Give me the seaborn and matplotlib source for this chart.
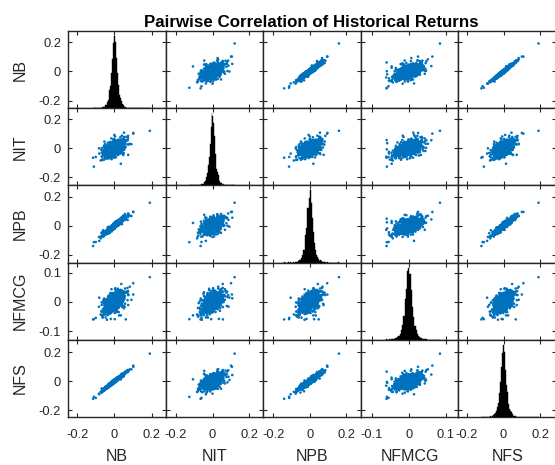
import numpy as np
import pandas as pd
import matplotlib
matplotlib.use("Agg")
import matplotlib.pyplot as plt
import seaborn as sns

# ---------------- data ----------------
names = ["NB", "NIT", "NPB", "NFMCG", "NFS"]
# daily-return spread of each index (read from cloud / histogram widths)
sigmas = [0.019, 0.018, 0.020, 0.0118, 0.019]
# pairwise correlations (upper triangle, read from cloud shapes)
corr_pairs = {
    ("NB", "NIT"): 0.45, ("NB", "NPB"): 0.955, ("NB", "NFMCG"): 0.52, ("NB", "NFS"): 0.985,
    ("NIT", "NPB"): 0.43, ("NIT", "NFMCG"): 0.42, ("NIT", "NFS"): 0.46,
    ("NPB", "NFMCG"): 0.50, ("NPB", "NFS"): 0.945,
    ("NFMCG", "NFS"): 0.52,
}
# the two isolated extreme days visible in every panel
extreme_up = [0.19, 0.12, 0.16, 0.085, 0.19]
extreme_down = [-0.115, -0.065, -0.14, -0.06, -0.12]
# axis limits of each variable
limits = [(-0.25, 0.275), (-0.255, 0.275), (-0.255, 0.28), (-0.13, 0.135), (-0.245, 0.285)]
tick_vals = [[-0.2, 0, 0.2], [-0.2, 0, 0.2], [-0.2, 0, 0.2], [-0.1, 0, 0.1], [-0.2, 0, 0.2]]
tick_text = [["-0.2", "0", "0.2"], ["-0.2", "0", "0.2"], ["-0.2", "0", "0.2"],
             ["-0.1", "0", "0.1"], ["-0.2", "0", "0.2"]]
title = "Pairwise Correlation of Historical Returns"
n_days = 3200

# ---------------- deterministic cloud built from the statistics above ----------------
def norm_ppf(p):
    a = [-3.969683028665376e+01, 2.209460984245205e+02, -2.759285104469687e+02,
         1.383577518672690e+02, -3.066479806614716e+01, 2.506628277459239e+00]
    b = [-5.447609879822406e+01, 1.615858368580409e+02, -1.556989798598866e+02,
         6.680131188771972e+01, -1.328068155288572e+01]
    c = [-7.784894002430293e-03, -3.223964580411365e-01, -2.400758277161838e+00,
         -2.549732539343734e+00, 4.374664141464968e+00, 2.938163982698783e+00]
    d = [7.784695709041462e-03, 3.224671290700398e-01, 2.445134137142996e+00,
         3.754408661907416e+00]
    p = np.asarray(p, float)
    out = np.empty_like(p)
    lo = p < 0.02425
    hi = p > 1 - 0.02425
    mid = ~(lo | hi)
    q = np.sqrt(-2 * np.log(p[lo]))
    out[lo] = (((((c[0]*q+c[1])*q+c[2])*q+c[3])*q+c[4])*q+c[5]) / ((((d[0]*q+d[1])*q+d[2])*q+d[3])*q+1)
    q = np.sqrt(-2 * np.log(1 - p[hi]))
    out[hi] = -(((((c[0]*q+c[1])*q+c[2])*q+c[3])*q+c[4])*q+c[5]) / ((((d[0]*q+d[1])*q+d[2])*q+d[3])*q+1)
    q = p[mid] - 0.5
    r = q * q
    out[mid] = (((((a[0]*r+a[1])*r+a[2])*r+a[3])*r+a[4])*r+a[5])*q / (((((b[0]*r+b[1])*r+b[2])*r+b[3])*r+b[4])*r+1)
    return out

k = len(names)
dim = k + 1
phi = 2.0
for _ in range(60):
    phi = (1 + phi) ** (1.0 / (dim + 1))
alpha = np.array([(1.0 / phi) ** (j + 1) % 1 for j in range(dim)])
idx = np.arange(1, n_days + 1)[:, None]
u = (0.5 + idx * alpha[None, :]) % 1.0
u = np.clip(u, 1e-6, 1 - 1e-6)
z = norm_ppf(u)

C = np.eye(k)
for (p1, p2), v in corr_pairs.items():
    i, j = names.index(p1), names.index(p2)
    C[i, j] = C[j, i] = v
w, V = np.linalg.eigh(C)
w = np.clip(w, 1e-4, None)
L = V @ np.diag(np.sqrt(w))
vol = np.exp(0.42 * z[:, k])
vol = vol / np.sqrt(np.mean(vol ** 2))
R = (z[:, :k] @ L.T) * vol[:, None] * np.array(sigmas)[None, :]
R = np.vstack([R, extreme_up, extreme_down])
df = pd.DataFrame(R, columns=names)

# ---------------- drawing ----------------
sns.set_style("white")
plt.rcParams["font.family"] = ["Liberation Sans", "DejaVu Sans"]
W, H = 555, 465
fig = plt.figure(figsize=(W / 100, H / 100), dpi=100)
x0, x1, y0, y1 = 68, 556, 31, 417
cw = (x1 - x0) / k
rh = (y1 - y0) / k
dark = "#262626"
blue = "#0072BD"

for r in range(k):
    for c in range(k):
        left = (x0 + c * cw) / W
        bottom = 1 - (y0 + (r + 1) * rh) / H
        ax = fig.add_axes([left, bottom, cw / W, rh / H])
        ax.set_xlim(limits[c])
        ax.set_ylim(limits[r])
        if r != c:
            sns.scatterplot(data=df, x=names[c], y=names[r], ax=ax, s=3.5, color=blue,
                            linewidth=0, edgecolor="none", alpha=1.0)
        else:
            axh = ax.inset_axes([0, 0, 1, 1])
            sns.histplot(data=df, x=names[c], ax=axh, binwidth=sigmas[c] * 0.28,
                         color="black", edgecolor="black", linewidth=0.3, alpha=1.0)
            axh.set_xlim(limits[c])
            top = max(p.get_height() for p in axh.patches)
            axh.set_ylim(0, top * 1.07)
            axh.patch.set_alpha(0)
            axh.set_xlabel("")
            axh.set_ylabel("")
            axh.set_xticks([])
            axh.set_yticks([])
            axh.set_axis_off()
        ax.set_xlabel("")
        ax.set_ylabel("")
        ax.set_xticks(tick_vals[c])
        ax.set_yticks(tick_vals[r])
        ax.tick_params(direction="in", length=3, width=0.8, top=True, right=True,
                       bottom=True, left=True, colors=dark, labelsize=9.3)
        ax.tick_params(axis="x", pad=9)
        ax.tick_params(axis="y", pad=5)
        if r == k - 1:
            ax.set_xticklabels(tick_text[c])
        else:
            ax.tick_params(axis="x", labelbottom=False)
        if c == 0:
            ax.set_yticklabels(tick_text[r])
        else:
            ax.tick_params(axis="y", labelleft=False)
        for s in ax.spines.values():
            s.set_color(dark)
            s.set_linewidth(1.0)

for i, nm in enumerate(names):
    fig.text(20 / W, 1 - (y0 + (i + 0.5) * rh) / H, nm, rotation=90, ha="center",
             va="center", fontsize=11.5, color=dark)
    fig.text((x0 + (i + 0.5) * cw) / W, 1.0 / H, nm, ha="center",
             va="bottom", fontsize=11.5, color=dark)

fig.text((68 + 555) / 2 / W, 1 - 27 / H, title, ha="center", va="baseline",
         fontsize=12.2, fontweight="bold", color="black")

fig.savefig("out.png", dpi=100)
